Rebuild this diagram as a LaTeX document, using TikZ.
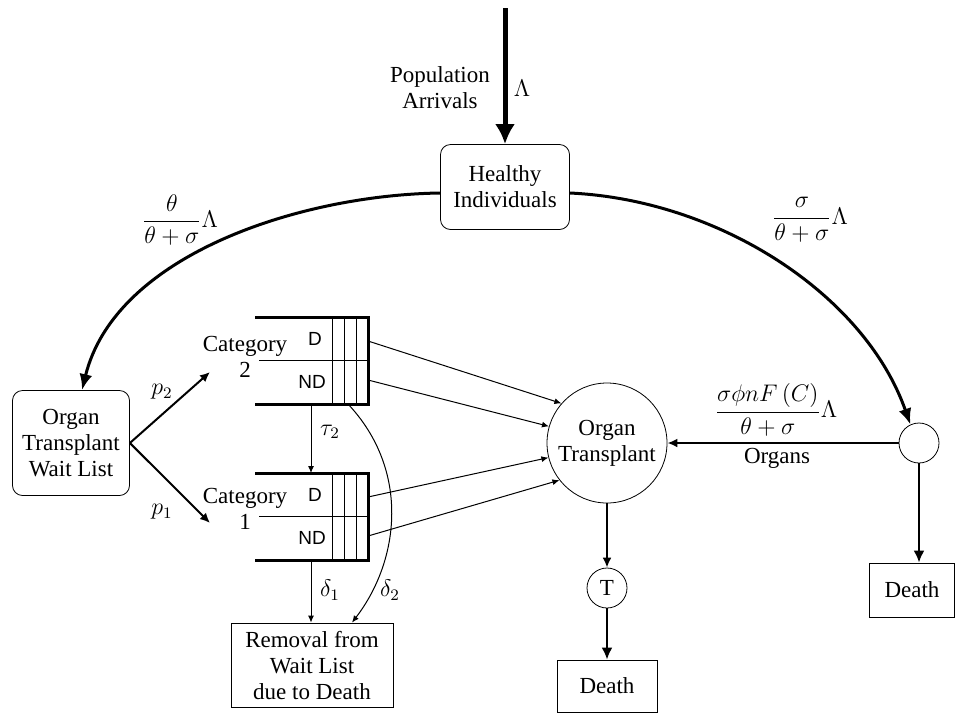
\documentclass[tikz,border=0pt]{standalone}
\usepackage{amsmath}
\usepackage[no-math]{fontspec}
\setmainfont{Liberation Serif}
\setsansfont{Liberation Sans}
\usetikzlibrary{arrows.meta}

\begin{document}
\begin{tikzpicture}[x=0.5pt,y=-0.5pt,>=Latex,align=center,
  font=\fontsize{11.5}{13}\selectfont]
  \tikzstyle{rbox}=[draw,rounded corners=5pt,inner sep=0pt]
  \tikzstyle{sbox}=[draw,inner sep=0pt]
  \tikzstyle{circ}=[draw,circle,inner sep=0pt]
  \tikzstyle{queue}=[line width=1.5pt]
  \tikzstyle{tag}=[font=\sffamily\fontsize{9.5}{11}\selectfont]
  \tikzstyle{feed}=[->,line width=0.5pt,>={Latex[length=3.5pt,width=3pt]}]
  \tikzstyle{flow}=[->,line width=1pt,>={Latex[length=5pt,width=4.5pt]}]
  \tikzstyle{heavy}=[->,line width=1.4pt,>={Latex[length=6pt,width=5.5pt]}]
  \tikzstyle{arc}=[->,line width=1.5pt,>={Latex[length=8pt,width=6.5pt]}]

  \useasboundingbox (0,0) rectangle (957,713);

  % nodes
  \coordinate (src) at (505,8);
  \node[rbox,minimum width=64.5pt,minimum height=42.5pt] (hi) at (505,187) {Healthy\\Individuals};
  \node (pa) at (440,88) {Population\\Arrivals};
  \node (lam) at (522,88) {$\Lambda$};
  \node[rbox,minimum width=58.5pt,minimum height=52.5pt] (wl) at (71,443) {Organ\\Transplant\\Wait List};
  \node (c2) at (245,357) {Category\\2};
  \node (c1) at (245,509) {Category\\1};
  \node[circ,minimum size=60pt] (ot) at (607,443) {Organ\\Transplant};
  \node[circ,minimum size=20pt] (oc) at (919,443) {};
  \node[circ,minimum size=20pt] (tc) at (607,588) {T};
  \node[sbox,minimum width=81pt,minimum height=42pt] (rm) at (312,665) {Removal from\\Wait List\\due to Death};
  \node[sbox,minimum width=42.5pt,minimum height=27pt] (dr) at (912,590) {Death};
  \node[sbox,minimum width=50pt,minimum height=26pt] (dt) at (607,686) {Death};
  \coordinate (p2end) at (210,372);
  \coordinate (p1end) at (210,523);

  % the two priority queues
  \foreach \q/\y in {2/317,1/473} {
    \draw[queue] (255,\y) -- (368,\y) -- (368,\y+87) -- (255,\y+87);
    \draw (259,\y+43) -- (368,\y+43);
    \foreach \x in {332,344,356}
      \draw (\x,\y) -- (\x,\y+87);
    \node[tag] (d\q) at (315,\y+22) {D};
    \node[tag] (nd\q) at (312,\y+65) {ND};
    \coordinate (q\q d) at (368,\y+24);
    \coordinate (q\q n) at (368,\y+63);
    \coordinate (q\q t) at (311,\y);
    \coordinate (q\q b) at (311,\y+87);
    \coordinate (q\q x) at (348,\y+87);
  }

  % labels
  \node (fl) at (180,220) {$\dfrac{\theta}{\theta+\sigma}\Lambda$};
  \node (fr) at (810,220) {$\dfrac{\sigma}{\theta+\sigma}\Lambda$};
  \node (fo) at (776,410) {$\dfrac{\sigma\phi nF\left(C\right)}{\theta+\sigma}\Lambda$};
  \node (org) at (777,458) {Organs};
  \node (lp2) at (162,392) {$p_2$};
  \node (lp1) at (162,512) {$p_1$};
  \node (lt2) at (330,432) {$\tau_2$};
  \node (ld1) at (330,590) {$\delta_1$};
  \node (ld2) at (390,590) {$\delta_2$};

  % connectors
  \draw[->,line width=2.5pt,>={Latex[length=10pt,width=10pt]}] (src) -- (hi);
  \draw[arc] ([yshift=-3pt]hi.west) .. controls (300,195) and (115,255) .. ([xshift=5.5pt]wl.north);
  \draw[arc] ([yshift=-3pt]hi.east) .. controls (720,200) and (865,295) .. (oc.115);
  \draw[flow] (wl.east) -- (p2end);
  \draw[flow] (wl.east) -- (p1end);
  \draw[feed] (q2b) -- (q1t);
  \draw[feed] (q1b) -- (q1b |- rm.north);
  \draw[feed] (q2x) .. controls (410,470) and (400,560) .. ([xshift=20pt]rm.north);
  \draw[feed] (q2d) -- (ot.139);
  \draw[feed] (q2n) -- (ot.164);
  \draw[feed] (q1d) -- (ot.194);
  \draw[feed] (q1n) -- (ot.218);
  \draw[flow] (oc) -- (ot);
  \draw[heavy] (oc) -- (oc |- dr.north);
  \draw[flow] (ot) -- (tc);
  \draw[heavy] (tc) -- (dt);
\end{tikzpicture}
\end{document}
